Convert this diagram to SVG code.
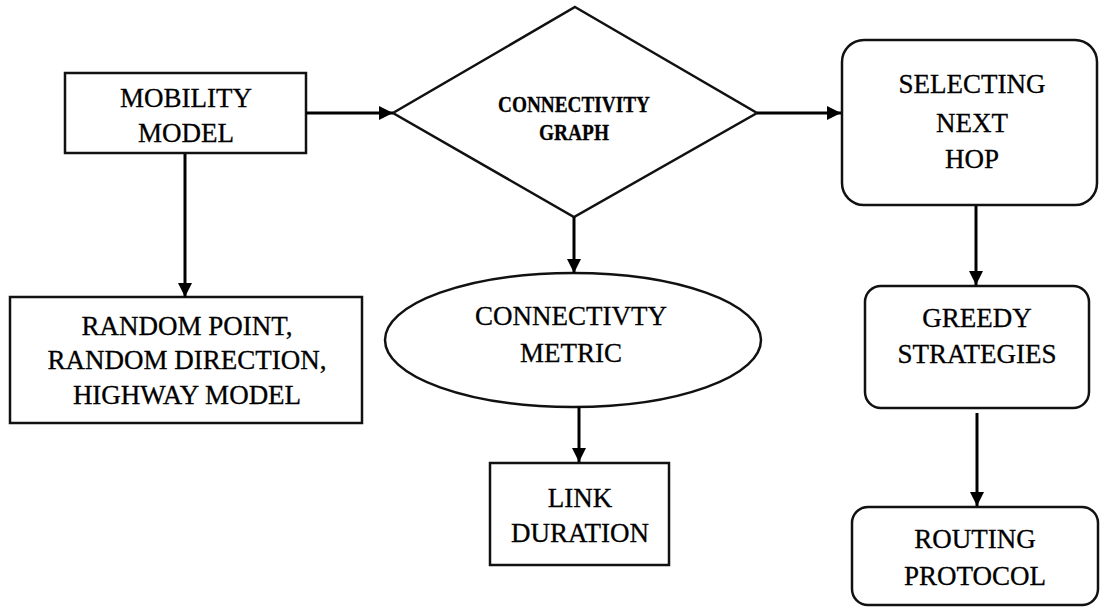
<svg xmlns="http://www.w3.org/2000/svg" width="1100" height="607" viewBox="0 0 1100 607">
<defs>
<marker id="ah" markerWidth="14" markerHeight="14" viewBox="0 0 14 14" refX="14" refY="7" orient="auto" markerUnits="userSpaceOnUse">
<path d="M0,0 L14,7 L0,14 Z" fill="#000"/>
</marker>
</defs>
<style>
.box{fill:#fff;stroke:#111;stroke-width:2.5}
.t{font-family:"Liberation Serif","Times New Roman",serif;font-size:27px;fill:#000;stroke:#000;stroke-width:0.3;text-anchor:middle}
.s{font-size:23px;font-weight:bold}
.c{stroke:#000;stroke-width:3;fill:none;marker-end:url(#ah)}
</style>
<rect width="1100" height="607" fill="#fff"/>
<g id="mobility">
<rect class="box" x="65" y="73" width="241" height="80"/>
<text class="t" x="186" y="107">MOBILITY</text>
<text class="t" x="186" y="142">MODEL</text>
</g>
<g id="graph">
<polygon class="box" points="575,7 757,113 574,217 393,113"/>
<text class="t s" x="574" y="112" textLength="152" lengthAdjust="spacingAndGlyphs">CONNECTIVITY</text>
<text class="t s" x="574" y="140" textLength="70" lengthAdjust="spacingAndGlyphs">GRAPH</text>
</g>
<g id="selecting">
<rect class="box" x="842" y="40" width="255" height="165" rx="22" ry="22"/>
<text class="t" x="972" y="93">SELECTING</text>
<text class="t" x="972" y="132">NEXT</text>
<text class="t" x="972" y="168">HOP</text>
</g>
<g id="random">
<rect class="box" x="10" y="297" width="352" height="126"/>
<text class="t" x="187" y="335">RANDOM POINT,</text>
<text class="t" x="187" y="369">RANDOM DIRECTION,</text>
<text class="t" x="187" y="404">HIGHWAY MODEL</text>
</g>
<g id="metric">
<ellipse class="box" cx="573" cy="340" rx="188" ry="67"/>
<text class="t" x="571" y="325">CONNECTIVTY</text>
<text class="t" x="571" y="362">METRIC</text>
</g>
<g id="link">
<rect class="box" x="490" y="463" width="179" height="102"/>
<text class="t" x="580" y="507">LINK</text>
<text class="t" x="580" y="542">DURATION</text>
</g>
<g id="greedy">
<rect class="box" x="865" y="286" width="224" height="122" rx="16" ry="16"/>
<text class="t" x="977" y="327">GREEDY</text>
<text class="t" x="977" y="363">STRATEGIES</text>
</g>
<g id="routing">
<rect class="box" x="852" y="507" width="246" height="98" rx="16" ry="16"/>
<text class="t" x="975" y="548">ROUTING</text>
<text class="t" x="975" y="585">PROTOCOL</text>
</g>
<g id="connectors">
<line class="c" x1="306" y1="113" x2="393" y2="113"/>
<line class="c" x1="757" y1="113" x2="841" y2="113"/>
<line class="c" x1="185" y1="154" x2="185" y2="297"/>
<line class="c" x1="574" y1="217" x2="574" y2="273"/>
<line class="c" x1="579" y1="407" x2="579" y2="462"/>
<line class="c" x1="976" y1="206" x2="976" y2="285"/>
<line class="c" x1="977" y1="413" x2="977" y2="506"/>
</g>
</svg>
